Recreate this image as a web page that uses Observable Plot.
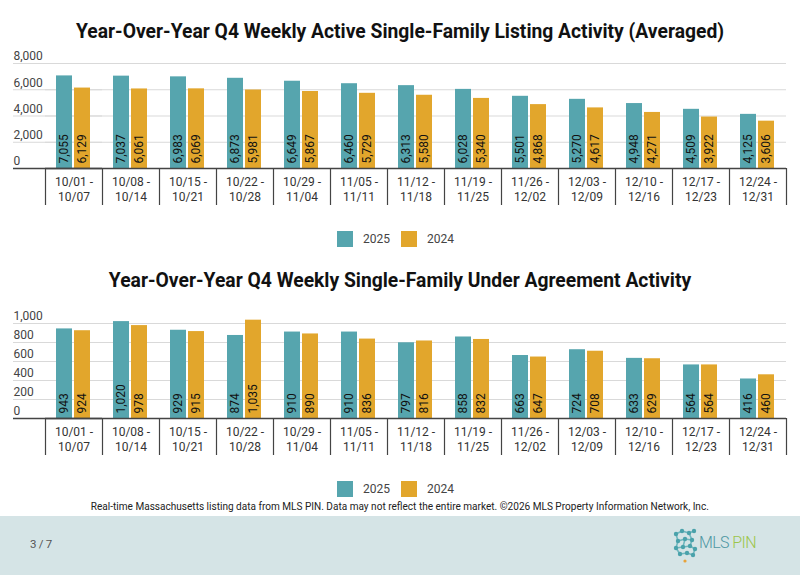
<!DOCTYPE html>
<html>
<head>
<meta charset="utf-8">
<script src="https://cdn.jsdelivr.net/npm/d3@7"></script>
<script src="https://cdn.jsdelivr.net/npm/@observablehq/plot@0.6"></script>
<style>
  html, body { margin: 0; padding: 0; background: #fff; }
  body { width: 800px; height: 575px; position: relative; overflow: hidden; font-family: Roboto, "Noto Sans", sans-serif; }
  .abs { position: absolute; }
  .title { left: 0; width: 800px; text-align: center; font-weight: 700; font-size: 19.3px; color: #111; line-height: 22px; }
  .sw { width: 16px; height: 16px; }
  .lg { font-size: 12px; color: #444; line-height: 16px; }
  #foot { left: 0; top: 516px; width: 800px; height: 59px; background: #d5e4e6; }
</style>
</head>
<body>
<script>
// ---- data ----
const weeks = ["10/01 - 10/07", "10/08 - 10/14", "10/15 - 10/21", "10/22 - 10/28", "10/29 - 11/04", "11/05 - 11/11", "11/12 - 11/18", "11/19 - 11/25", "11/26 - 12/02", "12/03 - 12/09", "12/10 - 12/16", "12/17 - 12/23", "12/24 - 12/31"];
const years = ["2025", "2024"];
const active2025 = [7055, 7037, 6983, 6873, 6649, 6460, 6313, 6028, 5501, 5270, 4948, 4509, 4125];
const active2024 = [6129, 6061, 6069, 5981, 5867, 5729, 5580, 5340, 4868, 4617, 4271, 3922, 3606];
const ua2025 = [943, 1020, 929, 874, 910, 910, 797, 858, 663, 724, 633, 564, 416];
const ua2024 = [924, 978, 915, 1035, 890, 836, 816, 832, 647, 708, 629, 564, 460];
const activeTicks = [0, 2000, 4000, 6000, 8000];
const uaTicks = [0, 200, 400, 600, 800, 1000];
const title1 = "Year-Over-Year Q4 Weekly Active Single-Family Listing Activity (Averaged)";
const title2 = "Year-Over-Year Q4 Weekly Single-Family Under Agreement Activity";
const footnote = "Real-time Massachusetts listing data from MLS PIN. Data may not reflect the entire market. ©2026 MLS Property Information Network, Inc.";
const pageLabel = "3 / 7";

const colors = ["#56a5ae", "#e2a62c"];
const fmt = d3.format(",");

function rows(a, b) {
  const out = [];
  weeks.forEach((w, i) => {
    out.push({week: w, year: years[0], value: a[i]});
    out.push({week: w, year: years[1], value: b[i]});
  });
  return out;
}

const W = 800, ML = 45, MR = 14;
const halfStep = (W - ML - MR) / weeks.length / 2;
const firstWeek = () => weeks[0];

function chart(data, ticks, height, marginTop, marginBottom) {
  const grid = ticks.filter(t => t > 0);
  return Plot.plot({
    width: W, height, marginLeft: ML, marginRight: MR, marginTop, marginBottom,
    style: {fontFamily: "Roboto, sans-serif", fontSize: "12px", color: "#333", background: "transparent", overflow: "visible"},
    fx: {domain: weeks, padding: 0, label: null},
    x: {domain: years, paddingInner: 0.085, paddingOuter: 0.62, axis: null},
    y: {domain: [0, ticks[ticks.length - 1]], label: null},
    color: {domain: years, range: colors},
    marks: [
      Plot.ruleY(grid, {stroke: "#d9d9d9", strokeWidth: 1}),
      Plot.ruleY(grid, {fx: firstWeek, stroke: "#d9d9d9", strokeWidth: 1, insetLeft: -32}),
      Plot.axisY({ticks, tickSize: 0, tickPadding: 0, textAnchor: "start", dx: -32, dy: -7, tickFormat: fmt, fill: "#444", fontSize: 12, label: null}),
      Plot.barY(data, {fx: "week", x: "year", y: "value", fill: "year"}),
      Plot.text(data, {fx: "week", x: "year", frameAnchor: "bottom", text: d => fmt(d.value), rotate: -90, textAnchor: "start", lineAnchor: "middle", dy: -5, fill: "#111", fontSize: 12}),
      Plot.ruleY([0], {stroke: "#444", strokeWidth: 1.6}),
      Plot.ruleY([0], {fx: firstWeek, stroke: "#444", strokeWidth: 1.6, insetLeft: -32}),
      Plot.axisFx({anchor: "bottom", tickSize: 37, tickPadding: 0, tickFormat: () => "", dx: -halfStep, stroke: "#444", strokeWidth: 1.2, label: null}),
      Plot.axisFx({anchor: "bottom", ticks: [weeks[weeks.length - 1]], tickSize: 37, tickPadding: 0, tickFormat: () => "", dx: halfStep, stroke: "#444", strokeWidth: 1.2, label: null}),
      Plot.axisFx({anchor: "bottom", tickSize: 0, tickPadding: 8, tickFormat: d => d.replace(" - ", " -\n"), lineAnchor: "top", lineHeight: 1.17, fill: "#333", fontSize: 12, label: null})
    ]
  });
}

function place(el, top, left = 0) {
  const d = document.createElement("div");
  d.className = "abs";
  d.style.top = top + "px";
  d.style.left = left + "px";
  d.appendChild(el);
  document.body.appendChild(d);
  return d;
}

function textDiv(cls, txt, top, extra = {}) {
  const d = document.createElement("div");
  d.className = "abs " + cls;
  d.style.top = top + "px";
  d.textContent = txt;
  Object.assign(d.style, extra);
  document.body.appendChild(d);
  return d;
}

function legend(top) {
  years.forEach((y, i) => {
    const s = document.createElement("div");
    s.className = "abs sw";
    s.style.left = (337 + i * 64) + "px";
    s.style.top = top + "px";
    s.style.background = colors[i];
    document.body.appendChild(s);
    textDiv("lg", y, top, {left: (363 + i * 64) + "px"});
  });
}

// footer band
const foot = document.createElement("div");
foot.id = "foot"; foot.className = "abs";
document.body.appendChild(foot);

textDiv("title", title1, 21);
place(chart(rows(active2025, active2024), activeTicks, 165, 18, 42), 45);
legend(231);

textDiv("title", title2, 270);
place(chart(rows(ua2025, ua2024), uaTicks, 160, 23, 42), 300);
legend(481);

// footnote, condensed to fit
const fn = textDiv("", "", 500, {left: "0px", width: "800px", textAlign: "center", fontSize: "10.5px", color: "#222", lineHeight: "14px", whiteSpace: "nowrap"});
const span = document.createElement("span");
span.textContent = footnote;
fn.appendChild(span);
span.style.display = "inline-block";
const wNat = span.getBoundingClientRect().width;
span.style.transform = `scaleX(${618 / wNat})`;

textDiv("", pageLabel, 537, {left: "30px", fontSize: "11.5px", color: "#555", lineHeight: "14px", letterSpacing: "-0.3px"});

// logo
const ns = "http://www.w3.org/2000/svg";
const logo = document.createElementNS(ns, "svg");
logo.setAttribute("width", "100"); logo.setAttribute("height", "40");
const nodes = [[4,6],[10,3],[17,5],[22,3],[6,13],[13,11],[20,12],[4,20],[11,19],[18,18],[23,21],[8,26],[15,25],[21,27],[13,33]];
const links = [[0,1],[1,2],[2,3],[0,4],[4,5],[5,6],[2,6],[4,7],[7,8],[8,9],[9,10],[6,9],[7,11],[11,12],[12,13],[10,13],[5,8]];
const g = document.createElementNS(ns, "g");
links.forEach(([a, b]) => {
  const l = document.createElementNS(ns, "line");
  l.setAttribute("x1", nodes[a][0]); l.setAttribute("y1", nodes[a][1]);
  l.setAttribute("x2", nodes[b][0]); l.setAttribute("y2", nodes[b][1]);
  l.setAttribute("stroke", "#6fb7be"); l.setAttribute("stroke-width", "1.6");
  g.appendChild(l);
});
nodes.forEach(([x, y], i) => {
  const c = document.createElementNS(ns, "circle");
  c.setAttribute("cx", x); c.setAttribute("cy", y); c.setAttribute("r", i === 14 ? 1.6 : 2.2);
  c.setAttribute("fill", i === 14 ? "#e8a33a" : "#4aa2ab");
  g.appendChild(c);
});
logo.appendChild(g);
const t = document.createElementNS(ns, "text");
t.setAttribute("x", "27"); t.setAttribute("y", "20");
t.setAttribute("font-family", "Roboto, sans-serif"); t.setAttribute("font-size", "16"); t.setAttribute("font-weight", "300");
t.setAttribute("letter-spacing", "-0.6");
const t1 = document.createElementNS(ns, "tspan"); t1.setAttribute("fill", "#4e97a3"); t1.textContent = "MLS ";
const t2 = document.createElementNS(ns, "tspan"); t2.setAttribute("fill", "#9cc54a"); t2.textContent = "PIN";
t.appendChild(t1); t.appendChild(t2);
logo.appendChild(t);
place(logo, 528, 672);
</script>
</body>
</html>
